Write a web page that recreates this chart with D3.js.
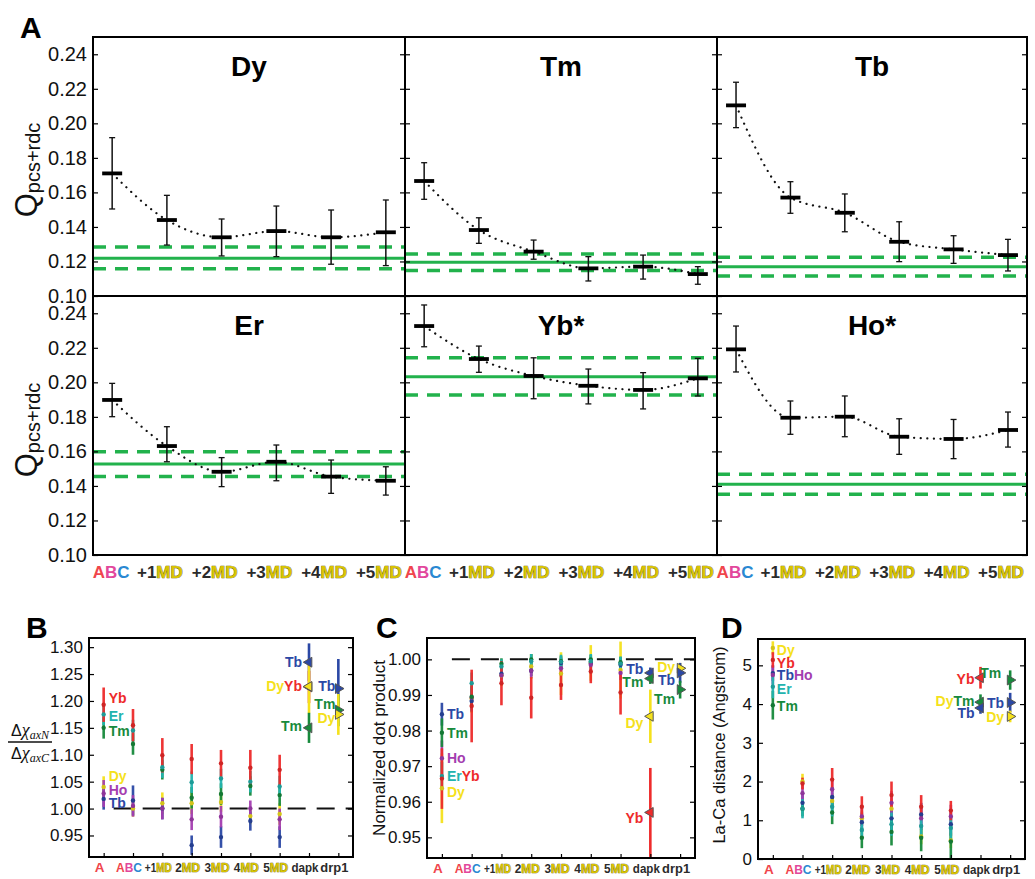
<!DOCTYPE html>
<html>
<head>
<meta charset="utf-8">
<script src="https://cdn.jsdelivr.net/npm/d3@7"></script>
<style>
  body { margin: 0; background: #fff; }
  svg { font-family: "Liberation Sans", Arial, Helvetica, sans-serif; }
</style>
</head>
<body>
<svg id="fig" width="1035" height="879"></svg>
<script>
// ---------- panel A: Q factors per lanthanide ----------
var stages = ["ABC", "+1MD", "+2MD", "+3MD", "+4MD", "+5MD"];
var panelNames = ["Dy", "Tm", "Tb", "Er", "Yb*", "Ho*"];

var dyMean = [0.171, 0.144, 0.134, 0.1376, 0.134, 0.1369];
var dyLow  = [0.1504, 0.1295, 0.1232, 0.1228, 0.1184, 0.1176];
var dyHigh = [0.1917, 0.1583, 0.1446, 0.1521, 0.1498, 0.1556];
var dyRef  = [0.1218, 0.1158, 0.1284];   // solid, lower dashed, upper dashed

var tmMean = [0.1666, 0.1382, 0.1257, 0.116, 0.117, 0.1127];
var tmLow  = [0.156, 0.1305, 0.1213, 0.1087, 0.1098, 0.1068];
var tmHigh = [0.1772, 0.1453, 0.1324, 0.1228, 0.1237, 0.117];
var tmRef  = [0.1195, 0.1147, 0.1243];

var tbMean = [0.2104, 0.157, 0.1482, 0.1314, 0.127, 0.1237];
var tbLow  = [0.1975, 0.1479, 0.1372, 0.1199, 0.1189, 0.1145];
var tbHigh = [0.2238, 0.1662, 0.1591, 0.143, 0.1349, 0.1328];
var tbRef  = [0.117, 0.1116, 0.1224];

var erMean = [0.1898, 0.1631, 0.1482, 0.154, 0.1454, 0.143];
var erLow  = [0.1801, 0.154, 0.1396, 0.143, 0.1357, 0.1347];
var erHigh = [0.1994, 0.1743, 0.1564, 0.1637, 0.155, 0.1511];
var erRef  = [0.1527, 0.1454, 0.1598];

var ybMean = [0.2326, 0.2135, 0.2037, 0.198, 0.1956, 0.2023];
var ybLow  = [0.2206, 0.2058, 0.1905, 0.1875, 0.1846, 0.1921];
var ybHigh = [0.2448, 0.221, 0.2142, 0.2077, 0.2056, 0.2139];
var ybRef  = [0.2033, 0.1927, 0.2143];

var hoMean = [0.2191, 0.1795, 0.1801, 0.1685, 0.1672, 0.1724];
var hoLow  = [0.206, 0.1699, 0.1685, 0.1583, 0.1558, 0.1625];
var hoHigh = [0.2326, 0.1892, 0.1921, 0.1789, 0.1785, 0.1828];
var hoRef  = [0.141, 0.1352, 0.1467];

var qTicks = [0.10, 0.12, 0.14, 0.16, 0.18, 0.20, 0.22, 0.24];

// ---------- panels B-D ----------
var cats = ["A", "ABC", "+1MD", "2MD", "3MD", "4MD", "5MD", "dapk", "drp1"];
var elements = ["Yb", "Er", "Tm", "Dy", "Ho", "Tb"];

// B: ratio of axial anisotropies (rows follow `elements`, columns A..5MD)
var ratioMean = [
  [1.193, 1.155, 1.099, 1.092, 1.084, 1.076, 1.072],
  [1.175, 1.145, 1.077, 1.049, 1.056, 1.050, 1.041],
  [1.150, 1.120, 1.072, 1.020, 1.027, 1.042, 1.025],
  [1.040, 1.000, 1.010, 1.010, 1.012, 0.986, 0.990],
  [1.028, 1.005, 1.000, 0.980, 0.985, 1.000, 0.980],
  [1.018, 1.015, 1.000, 0.932, 0.947, 0.977, 0.947]
];
var ratioErr = [
  [0.032, 0.030, 0.032, 0.028, 0.025, 0.033, 0.028],
  [0.020, 0.020, 0.020, 0.020, 0.018, 0.020, 0.020],
  [0.020, 0.020, 0.018, 0.020, 0.020, 0.018, 0.020],
  [0.020, 0.015, 0.020, 0.020, 0.018, 0.015, 0.020],
  [0.025, 0.020, 0.020, 0.020, 0.020, 0.015, 0.020],
  [0.020, 0.028, 0.020, 0.018, 0.020, 0.018, 0.020]
];
var ratioDapk = [["Tb", 1.272, 0.035], ["Yb", 1.226, 0.030], ["Dy", 1.227, 0.050], ["Tm", 1.150, 0.028]];
var ratioDrp1 = [["Tb", 1.223, 0.055], ["Tm", 1.183, 0.030], ["Dy", 1.175, 0.038]];

// C: normalized dot product
var dotMean = [
  [0.9665, 0.9869, 0.9933, 0.9892, 0.9928, 0.9966, 0.9907],
  [0.9672, 0.9933, 0.9980, 0.9995, 0.9993, 0.9995, 0.9988],
  [0.9794, 0.9895, 0.9988, 1.0000, 0.9995, 1.0000, 0.9992],
  [0.9638, 0.9890, 0.9955, 0.9980, 0.9960, 0.9990, 0.9970],
  [0.9722, 0.9893, 0.9955, 0.9968, 0.9975, 0.9985, 0.9962],
  [0.9846, 0.9883, 0.9960, 0.9968, 0.9990, 0.9990, 0.9985]
];
var dotErr = [
  [0.0085, 0.0102, 0.0062, 0.0058, 0.0042, 0.0033, 0.0062],
  [0.0040, 0.0030, 0.0020, 0.0020, 0.0020, 0.0020, 0.0020],
  [0.0040, 0.0030, 0.0015, 0.0015, 0.0015, 0.0012, 0.0015],
  [0.0098, 0.0040, 0.0030, 0.0035, 0.0060, 0.0050, 0.0080],
  [0.0050, 0.0030, 0.0020, 0.0020, 0.0020, 0.0015, 0.0020],
  [0.0032, 0.0030, 0.0015, 0.0015, 0.0015, 0.0010, 0.0015]
];
var dotDapk = [["Tb", 0.9962, 0.0015], ["Tm", 0.9946, 0.0015], ["Dy", 0.9840, 0.0075], ["Yb", 0.9570, 0.0125]];
var dotDrp1 = [["Dy", 0.9975, 0.0015], ["Tb", 0.9962, 0.0028], ["Tm", 0.9915, 0.0025]];

// D: La-Ca distance
var distMean = [
  [5.14, 1.95, 2.05, 1.35, 1.65, 1.35, 1.25],
  [4.45, 1.30, 1.35, 0.75, 0.90, 0.85, 0.80],
  [3.97, 1.30, 1.20, 0.55, 0.70, 0.55, 0.45],
  [5.45, 2.00, 1.50, 1.05, 1.30, 0.58, 0.48],
  [4.75, 1.70, 1.80, 1.10, 1.45, 1.05, 1.10],
  [4.80, 1.45, 1.60, 0.95, 1.05, 1.15, 0.90]
];
var distErr = [
  [0.20, 0.15, 0.30, 0.27, 0.35, 0.30, 0.25],
  [0.30, 0.25, 0.25, 0.25, 0.30, 0.30, 0.30],
  [0.37, 0.20, 0.30, 0.27, 0.35, 0.35, 0.43],
  [0.17, 0.20, 0.20, 0.20, 0.25, 0.20, 0.20],
  [0.25, 0.20, 0.25, 0.25, 0.30, 0.30, 0.30],
  [0.20, 0.20, 0.25, 0.25, 0.30, 0.30, 0.30]
];
var distDapk = [["Yb", 4.68, 0.28], ["Tm", 4.05, 0.20], ["Tb", 3.90, 0.15]];
var distDrp1 = [["Tm", 4.62, 0.25], ["Tb", 4.04, 0.25], ["Dy", 3.68, 0.15]];

// label annotations: [column, dx, y value, element names]
var notesB = [
  [0, 5, 1.205, ["Yb"]], [0, 5, 1.172, ["Er"]], [0, 5, 1.144, ["Tm"]],
  [0, 5, 1.061, ["Dy"]], [0, 5, 1.034, ["Ho"]], [0, 5, 1.010, ["Tb"]],
  [7, -7, 1.272, ["Tb"]], [7, -7, 1.227, ["Dy", "Yb"]], [7, -7, 1.153, ["Tm"]],
  [8, -3, 1.227, ["Tb"]], [8, -3, 1.194, ["Tm"]], [8, -3, 1.169, ["Dy"]]
];
var notesC = [
  [0, 5, 0.9846, ["Tb"]], [0, 5, 0.9792, ["Tm"]], [0, 5, 0.9724, ["Ho"]],
  [0, 5, 0.9672, ["Er", "Yb"]], [0, 5, 0.9628, ["Dy"]],
  [7, -7, 0.9972, ["Tb"]], [7, -7, 0.9936, ["Tm"]], [7, -7, 0.9820, ["Dy"]], [7, -7, 0.9554, ["Yb"]],
  [8, -5, 0.9978, ["Dy"]], [8, -5, 0.9942, ["Tb"]], [8, -5, 0.9888, ["Tm"]]
];
var notesD = [
  [0, 4, 5.40, ["Dy"]], [0, 4, 5.07, ["Yb"]], [0, 4, 4.76, ["Tb", "Ho"]],
  [0, 4, 4.40, ["Er"]], [0, 4, 3.94, ["Tm"]],
  [7, -6, 4.64, ["Yb"]], [7, -6, 4.08, ["Dy", "Tm"]], [7, -6, 3.76, ["Tb"]],
  [8, -9, 4.80, ["Tm"]], [8, -6, 4.04, ["Tb"]], [8, -6, 3.66, ["Dy"]]
];

// ---------- styles ----------
var elColor = { Yb: "#ee2b2b", Er: "#22b3ae", Tm: "#178a3c", Dy: "#f5e11c", Ho: "#a43db0", Tb: "#2b48a5" };
var green = "#22b24c";
var dark = "#2b2b2b";

var svg = d3.select("#fig");

// x tick label with coloured letters
function tickLabel(sel, label) {
  if (label === "A") {
    sel.append("tspan").attr("fill", "#f0454c").text("A");
  } else if (label === "ABC") {
    sel.append("tspan").attr("fill", "#f0454c").text("A");
    sel.append("tspan").attr("fill", "#e2479c").text("B");
    sel.append("tspan").attr("fill", "#2a88d2").text("C");
  } else if (/MD$/.test(label)) {
    sel.append("tspan").attr("fill", dark).text(label.replace("MD", ""));
    sel.append("tspan").attr("fill", "#d9c400").attr("stroke", "#5e5300")
      .attr("stroke-width", 0.7).style("paint-order", "stroke").text("MD");
  } else {
    sel.append("tspan").attr("fill", dark).text(label);
  }
}

// ================= PANEL A =================
var gridX = [93, 405, 717, 1027];
var gridY = [37, 296, 555];
var qMeans = [dyMean, tmMean, tbMean, erMean, ybMean, hoMean];
var qLows = [dyLow, tmLow, tbLow, erLow, ybLow, hoLow];
var qHighs = [dyHigh, tmHigh, tbHigh, erHigh, ybHigh, hoHigh];
var qRefs = [dyRef, tmRef, tbRef, erRef, ybRef, hoRef];

panelNames.forEach(function(name, i) {
  var c = i % 3, r = Math.floor(i / 3);
  var x0 = gridX[c], x1 = gridX[c + 1], y0 = gridY[r], y1 = gridY[r + 1];
  var x = d3.scalePoint().domain(stages).range([x0, x1]).padding(0.35);
  var y = d3.scaleLinear().domain([0.10, 0.25]).range([y1, y0]);
  var g = svg.append("g");

  // reference band
  var ref = qRefs[i];
  g.append("line").attr("x1", x0).attr("x2", x1).attr("y1", y(ref[0])).attr("y2", y(ref[0]))
    .attr("stroke", green).attr("stroke-width", 3);
  [ref[1], ref[2]].forEach(function(v) {
    g.append("line").attr("x1", x0).attr("x2", x1).attr("y1", y(v)).attr("y2", y(v))
      .attr("stroke", green).attr("stroke-width", 3.5).attr("stroke-dasharray", "13,9");
  });

  // dotted guide through the means
  var mean = qMeans[i], lo = qLows[i], hi = qHighs[i];
  var line = d3.line().curve(d3.curveMonotoneX)
    .x(function(d, j) { return x(stages[j]); })
    .y(function(d) { return y(d); });
  g.append("path").datum(mean).attr("d", line).attr("fill", "none")
    .attr("stroke", "#111").attr("stroke-width", 2.2)
    .attr("stroke-linecap", "round").attr("stroke-dasharray", "0.1,6.5");

  // error bars
  stages.forEach(function(s, j) {
    var cx = x(s);
    g.append("line").attr("x1", cx).attr("x2", cx).attr("y1", y(lo[j])).attr("y2", y(hi[j]))
      .attr("stroke", "#111").attr("stroke-width", 1.5);
    [lo[j], hi[j]].forEach(function(v) {
      g.append("line").attr("x1", cx - 3).attr("x2", cx + 3).attr("y1", y(v)).attr("y2", y(v))
        .attr("stroke", "#111").attr("stroke-width", 1.3);
    });
    g.append("line").attr("x1", cx - 10).attr("x2", cx + 10).attr("y1", y(mean[j])).attr("y2", y(mean[j]))
      .attr("stroke", "#000").attr("stroke-width", 3.8);
  });

  // title
  g.append("text").attr("x", (x0 + x1) / 2).attr("y", y0 + 39).attr("text-anchor", "middle")
    .attr("font-size", 28).attr("font-weight", "bold").text(name);

  // ticks
  var left = d3.axisLeft(y).tickValues(qTicks).tickSize(-5).tickPadding(6)
    .tickFormat(c === 0 ? d3.format(".2f") : function() { return ""; });
  var ga = g.append("g").attr("transform", "translate(" + x0 + ",0)").call(left);
  ga.select(".domain").remove();
  ga.selectAll("line").attr("stroke", "#000").attr("stroke-width", 1.2);
  ga.selectAll("text").attr("font-size", 20).attr("fill", "#111").attr("font-family", null);
  var right = d3.axisRight(y).tickValues(qTicks).tickSize(-5).tickFormat(function() { return ""; });
  var gr = g.append("g").attr("transform", "translate(" + x1 + ",0)").call(right);
  gr.select(".domain").remove();
  gr.selectAll("line").attr("stroke", "#000").attr("stroke-width", 1.2);

  // x labels on bottom row
  if (r === 1) {
    stages.forEach(function(s) {
      var t = g.append("text").attr("x", x(s) - (s === "ABC" ? 1 : 7)).attr("y", y1 + 23)
        .attr("text-anchor", "middle").attr("font-size", 17).attr("font-weight", "bold");
      tickLabel(t, s);
    });
  }
});

// frames of panel A
svg.append("rect").attr("x", gridX[0]).attr("y", gridY[0])
  .attr("width", gridX[3] - gridX[0]).attr("height", gridY[2] - gridY[0])
  .attr("fill", "none").attr("stroke", "#000").attr("stroke-width", 2);
[gridX[1], gridX[2]].forEach(function(v) {
  svg.append("line").attr("x1", v).attr("x2", v).attr("y1", gridY[0]).attr("y2", gridY[2])
    .attr("stroke", "#000").attr("stroke-width", 2);
});
svg.append("line").attr("x1", gridX[0]).attr("x2", gridX[3]).attr("y1", gridY[1]).attr("y2", gridY[1])
  .attr("stroke", "#000").attr("stroke-width", 2);

// Q label
[170, 430].forEach(function(cy) {
  var t = svg.append("text").attr("transform", "translate(37," + cy + ") rotate(-90)")
    .attr("text-anchor", "middle").attr("fill", "#111");
  t.append("tspan").attr("font-size", 31).text("Q");
  t.append("tspan").attr("font-size", 20).attr("dy", 3).text("pcs+rdc");
});

// ================= PANELS B-D =================
// widest each x label may be before it gets squeezed horizontally
var labelWidth = { "ABC": 26, "+1MD": 27, "2MD": 25, "3MD": 25, "4MD": 25, "5MD": 25, "dapk": 27, "drp1": 28 };

function scatterPanel(opt) {
  var x = d3.scalePoint().domain(cats).range([opt.left, opt.right]).padding(0.5);
  var y = d3.scaleLinear().domain(opt.domain).range([opt.bottom, opt.top]);
  var g = svg.append("g");
  var clipId = "clip" + opt.letter;
  g.append("clipPath").attr("id", clipId).append("rect")
    .attr("x", opt.left).attr("y", opt.top)
    .attr("width", opt.right - opt.left).attr("height", opt.bottom - opt.top);
  var plot = g.append("g").attr("clip-path", "url(#" + clipId + ")");

  if (opt.refLine != null) {
    plot.append("line").attr("x1", x("A") + 10).attr("x2", opt.right)
      .attr("y1", y(opt.refLine)).attr("y2", y(opt.refLine))
      .attr("stroke", "#111").attr("stroke-width", 2).attr("stroke-dasharray", "18,11");
  }

  var drawOrder = ["Dy", "Tb", "Ho", "Tm", "Er", "Yb"];
  drawOrder.forEach(function(el) {
    var e = elements.indexOf(el);
    opt.means[e].forEach(function(v, j) {
      var cx = x(cats[j]), err = opt.errs[e][j];
      plot.append("line").attr("x1", cx).attr("x2", cx)
        .attr("y1", y(v - err)).attr("y2", y(v + err))
        .attr("stroke", elColor[el]).attr("stroke-width", 2.6).attr("opacity", 0.95);
    });
  });
  drawOrder.forEach(function(el) {
    var e = elements.indexOf(el);
    opt.means[e].forEach(function(v, j) {
      plot.append("circle").attr("cx", x(cats[j])).attr("cy", y(v)).attr("r", 2.2)
        .attr("fill", d3.color(elColor[el]).darker(0.4));
    });
  });

  // reference structures as triangles
  [[opt.dapk, "dapk", -90], [opt.drp1, "drp1", 90]].forEach(function(set) {
    var cx = x(set[1]);
    set[0].forEach(function(p) {
      plot.append("line").attr("x1", cx).attr("x2", cx)
        .attr("y1", y(p[1] - p[2])).attr("y2", y(p[1] + p[2]))
        .attr("stroke", elColor[p[0]]).attr("stroke-width", 2.6);
    });
    set[0].forEach(function(p) {
      plot.append("path").attr("d", d3.symbol(d3.symbolTriangle, 42)())
        .attr("transform", "translate(" + cx + "," + y(p[1]) + ") rotate(" + set[2] + ")")
        .attr("fill", elColor[p[0]]).attr("stroke", "#555").attr("stroke-width", 1);
    });
  });

  // annotations
  opt.notes.forEach(function(n) {
    var t = g.append("text").attr("x", x(cats[n[0]]) + n[1]).attr("y", y(n[2]))
      .attr("dy", "0.36em").attr("text-anchor", n[1] < 0 ? "end" : "start")
      .attr("font-size", 14).attr("font-weight", "bold");
    n[3].forEach(function(el) { t.append("tspan").attr("fill", elColor[el]).text(el); });
  });

  // axes
  var left = d3.axisLeft(y).tickValues(opt.ticks).tickSize(-5).tickPadding(6).tickFormat(opt.fmt);
  var ga = g.append("g").attr("transform", "translate(" + opt.left + ",0)").call(left);
  ga.select(".domain").remove();
  ga.selectAll("line").attr("stroke", "#000").attr("stroke-width", 1.2);
  ga.selectAll("text").attr("font-size", 17).attr("fill", "#111").attr("font-family", null);
  var right = d3.axisRight(y).tickValues(opt.ticks).tickSize(-5).tickFormat(function() { return ""; });
  var gr = g.append("g").attr("transform", "translate(" + opt.right + ",0)").call(right);
  gr.select(".domain").remove();
  gr.selectAll("line").attr("stroke", "#000").attr("stroke-width", 1.2);
  var bottom = d3.axisBottom(x).tickSize(-4).tickFormat(function() { return ""; });
  var gb = g.append("g").attr("transform", "translate(0," + opt.bottom + ")").call(bottom);
  gb.select(".domain").remove();
  gb.selectAll("line").attr("stroke", "#000").attr("stroke-width", 1.2);

  cats.forEach(function(cat) {
    var t = g.append("text").attr("text-anchor", "middle")
      .attr("font-size", 13.5).attr("font-weight", "bold");
    tickLabel(t, cat);
    var w = t.node().getComputedTextLength();
    var s = labelWidth[cat] && w > labelWidth[cat] ? labelWidth[cat] / w : 1;
    t.attr("transform", "translate(" + (x(cat) - 4) + "," + (opt.bottom + 15) + ") scale(" + s + ",1)");
  });

  g.append("rect").attr("x", opt.left).attr("y", opt.top)
    .attr("width", opt.right - opt.left).attr("height", opt.bottom - opt.top)
    .attr("fill", "none").attr("stroke", "#000").attr("stroke-width", 2);

  return g;
}

scatterPanel({
  letter: "B", left: 89, right: 353, top: 638, bottom: 857,
  domain: [0.91, 1.317], ticks: [0.95, 1.00, 1.05, 1.10, 1.15, 1.20, 1.25, 1.30],
  fmt: d3.format(".2f"), refLine: 1.0,
  means: ratioMean, errs: ratioErr, dapk: ratioDapk, drp1: ratioDrp1, notes: notesB
});
scatterPanel({
  letter: "C", left: 427, right: 695, top: 638, bottom: 858,
  domain: [0.9442, 1.006], ticks: [0.95, 0.96, 0.97, 0.98, 0.99, 1.00],
  fmt: d3.format(".2f"), refLine: 1.0,
  means: dotMean, errs: dotErr, dapk: dotDapk, drp1: dotDrp1, notes: notesC
});
scatterPanel({
  letter: "D", left: 758, right: 1025, top: 639, bottom: 859,
  domain: [0, 5.68], ticks: [0, 1, 2, 3, 4, 5],
  fmt: d3.format("d"), refLine: null,
  means: distMean, errs: distErr, dapk: distDapk, drp1: distDrp1, notes: notesD
});

// B y label: fraction of anisotropies
var fr = svg.append("g").attr("transform", "translate(30,742)").attr("fill", "#111");
[["N", -6], ["C", 17]].forEach(function(p) {
  var t = fr.append("text").attr("y", p[1]).attr("text-anchor", "middle");
  t.append("tspan").attr("font-size", 16).text("\u0394");
  t.append("tspan").attr("font-size", 18).attr("font-style", "italic")
    .attr("font-family", "'Liberation Serif', 'Times New Roman', serif").text("\u03c7");
  t.append("tspan").attr("font-size", 12).attr("font-style", "italic").attr("dy", 3)
    .attr("font-family", "'Liberation Serif', 'Times New Roman', serif").text("ax" + p[0]);
});
fr.append("line").attr("x1", -22).attr("x2", 22).attr("y1", 0).attr("y2", 0)
  .attr("stroke", "#111").attr("stroke-width", 1.3);

// C and D y labels
svg.append("text").attr("transform", "translate(385,748) rotate(-90)").attr("text-anchor", "middle")
  .attr("font-size", 17).attr("fill", "#111").text("Normalized dot product");
svg.append("text").attr("transform", "translate(725,745) rotate(-90)").attr("text-anchor", "middle")
  .attr("font-size", 16.5).attr("fill", "#111").text("La-Ca distance (Angstrom)");

// panel letters
[["A", 20, 38], ["B", 26, 638], ["C", 376, 638], ["D", 721, 638]].forEach(function(p) {
  svg.append("text").attr("x", p[1]).attr("y", p[2]).attr("font-size", 30)
    .attr("font-weight", "bold").attr("fill", "#000").text(p[0]);
});
</script>
</body>
</html>
